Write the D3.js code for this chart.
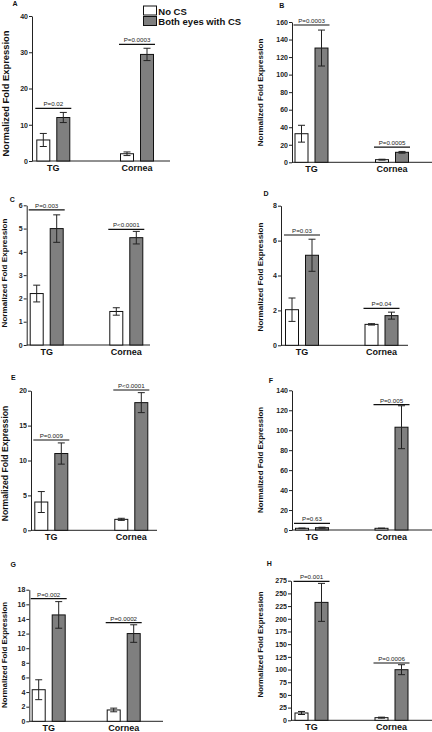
<!DOCTYPE html>
<html><head><meta charset="utf-8">
<script src="https://cdn.jsdelivr.net/npm/d3@7"></script>
<style>body{margin:0;background:#fff} svg{display:block} text{font-family:"Liberation Sans",Arial,sans-serif}</style>
</head><body>
<svg id="c" width="432" height="732"></svg>
<script>
// ---- data ----
const panelLabels = ["A","B","C","D","E","F","G","H"];
const categories = ["TG","Cornea"];
const seriesNames = ["No CS","Both eyes with CS"];
const noCSMean = [[5.8,2.0],[32.6,3.0],[2.21,1.44],[2.04,1.2],[4.05,1.57],[1.7,1.7],[4.32,1.55],[14.4,5.2]];
const noCSErr  = [[1.8,0.5],[9.6,0.5],[0.36,0.16],[0.67,0.04],[1.5,0.15],[0.3,0.2],[1.36,0.25],[3,1]];
const csMean   = [[12.0,29.4],[130.3,11.4],[5.0,4.61],[5.16,1.7],[11.0,18.29],[2.3,103],[14.55,12.0],[232.3,99.7]];
const csErr    = [[1.4,1.7],[20.5,1.0],[0.59,0.27],[0.92,0.2],[1.52,1.43],[0.5,21.5],[1.82,1.2],[37.4,9.8]];
const yMax  = [40,160,6,8,20,140,18,275];
const yStep = [10,20,1,2,5,20,2,25];
const pText  = [["P=0.02","P=0.0003"],["P=0.0003","P=0.0005"],["P=0.003","P<0.0001"],["P=0.03","P=0.04"],
                ["P=0.009","P<0.0001"],["P=0.63","P=0.005"],["P=0.002","P=0.0002"],["P=0.001","P=0.0006"]];
const pLevel = [[14.5,32.2],[156.6,17.4],[5.8,4.97],[6.32,2.12],[12.94,20.1],[6.7,125.7],[16.77,13.49],[273.8,112.9]];
const yTitle = "Normalized Fold Expression";

// ---- layout ----
const axisX  = [32,292,26.7,281,31,292,29.3,291];
const cTG    = [53.3,311.5,46.7,302,51.3,312,48.7,311.5];
const cCo    = [137,392,126.3,381.5,131.3,391.5,123.7,391.5];
const xEnd   = [170,432,150,408,157,432,163,432];
const y0px   = [161,162.3,345,345.3,530.3,530,721.3,720.3];
const yTopPx = [16,22,205.3,205.7,390.7,390.3,589.7,580.7];
const ylabX  = [5,260.5,4.5,260,4.5,260,4.5,260];
const ylabY  = [93.5,92.5,273,277,463.5,460,655,644.5];
const ylabFs = [9.4,8,8.1,8.1,8.6,7.9,7.9,7.9];
const letX   = [15,281.7,12.3,266,13.3,271,13.3,269.3];
const letY   = [6,8,202,196,380,383,567,566];

const fills = ["#ffffff","#7f7f7f"];
const svg = d3.select("#c");

panelLabels.forEach((lab, i) => {
  const g = svg.append("g");
  const y = d3.scaleLinear().domain([0, yMax[i]]).range([y0px[i], yTopPx[i]]);
  const xc = d3.scalePoint().domain(categories).range([cTG[i], cCo[i]]);
  const xs = d3.scaleBand().domain(seriesNames).range([-16.5, 16.5]).paddingInner(0.35).paddingOuter(0);

  // y axis
  const ticks = d3.range(0, yMax[i] + yStep[i]/2, yStep[i]);
  const ax = g.append("g").attr("transform", `translate(${axisX[i]},0)`)
    .call(d3.axisLeft(y).tickValues(ticks).tickSize(3).tickSizeOuter(0).tickPadding(1).tickFormat(d3.format("d")));
  ax.select(".domain").attr("stroke", "#222");
  ax.selectAll(".tick line").attr("stroke", "#222");
  ax.selectAll("text").attr("font-size", 7).attr("font-weight", "bold").attr("fill", "#222")
    .attr("font-family", '"Liberation Sans",Arial,sans-serif');
  // x axis
  g.append("line").attr("x1", axisX[i]).attr("x2", xEnd[i]).attr("y1", y(0)).attr("y2", y(0))
    .attr("stroke", "#222").attr("stroke-width", 1);

  const rows = [];
  categories.forEach((c, k) => {
    rows.push({cat:c, s:seriesNames[0], v:noCSMean[i][k], e:noCSErr[i][k], f:fills[0]});
    rows.push({cat:c, s:seriesNames[1], v:csMean[i][k], e:csErr[i][k], f:fills[1]});
  });
  const bw = xs.bandwidth();
  g.selectAll("rect.bar").data(rows).join("rect").attr("class","bar")
    .attr("x", d => xc(d.cat) + xs(d.s)).attr("width", bw)
    .attr("y", d => y(d.v)).attr("height", d => y(0) - y(d.v))
    .attr("fill", d => d.f).attr("stroke", "#111").attr("stroke-width", 1);
  // error bars
  const cap = 7;
  rows.forEach(d => {
    const cx = xc(d.cat) + xs(d.s) + bw/2;
    const eg = g.append("g").attr("stroke", "#222").attr("stroke-width", 1);
    eg.append("line").attr("x1", cx).attr("x2", cx).attr("y1", y(d.v + d.e)).attr("y2", y(Math.max(0, d.v - d.e)));
    eg.append("line").attr("x1", cx - cap/2).attr("x2", cx + cap/2).attr("y1", y(d.v + d.e)).attr("y2", y(d.v + d.e));
    eg.append("line").attr("x1", cx - cap/2).attr("x2", cx + cap/2).attr("y1", y(d.v - d.e)).attr("y2", y(d.v - d.e));
  });
  // P-value brackets
  categories.forEach((c, k) => {
    const cx = xc(c), ly = y(pLevel[i][k]);
    g.append("line").attr("x1", cx - 18).attr("x2", cx + 18).attr("y1", ly).attr("y2", ly)
      .attr("stroke", "#111").attr("stroke-width", 1.2);
    g.append("text").attr("x", cx).attr("y", ly - 2).attr("text-anchor", "middle")
      .attr("font-size", 6.2).attr("fill", "#222").text(pText[i][k]);
    // category label
    g.append("text").attr("x", cx).attr("y", y(0) + 10).attr("text-anchor", "middle")
      .attr("font-size", 9).attr("font-weight", "bold").attr("fill", "#111").text(c);
  });
  // y title
  g.append("text").attr("transform", `translate(${ylabX[i]},${ylabY[i]}) rotate(-90)`)
    .attr("text-anchor", "middle").attr("dominant-baseline", "central")
    .attr("font-size", ylabFs[i]).attr("font-weight", "bold").attr("fill", "#111").text(yTitle);
  // panel letter
  g.append("text").attr("x", letX[i]).attr("y", letY[i]).attr("text-anchor", "middle")
    .attr("font-size", 7).attr("font-weight", "bold").attr("fill", "#111").text(lab);
});

// legend
const lg = svg.append("g");
seriesNames.forEach((s, k) => {
  lg.append("rect").attr("x", 143.5).attr("y", 6 + k*10.5).attr("width", 13).attr("height", 9)
    .attr("fill", fills[k]).attr("stroke", "#111").attr("stroke-width", 1);
  lg.append("text").attr("x", 158.3).attr("y", 14.5 + k*10.5).attr("font-size", 9.5)
    .attr("font-weight", "bold").attr("fill", "#111").text(s);
});
</script>
</body></html>
